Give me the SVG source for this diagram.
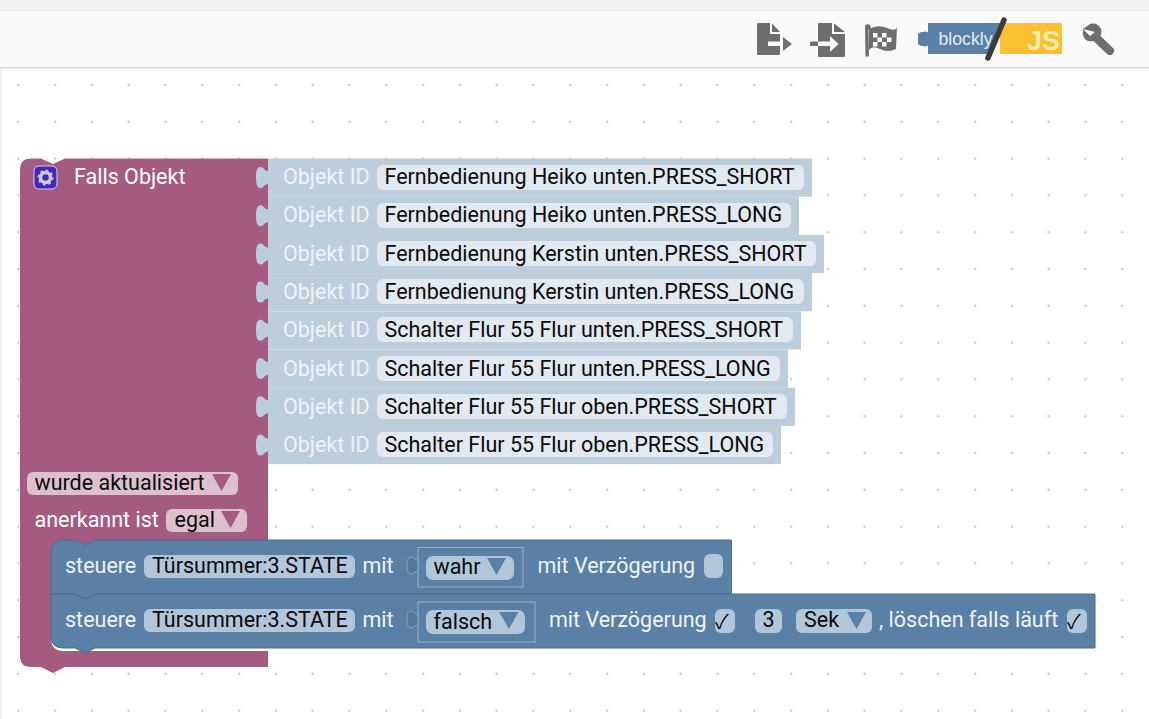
<svg xmlns="http://www.w3.org/2000/svg" width="1149" height="719" viewBox="0 0 1149 719">
<style>
text{font-family:Roboto,"Liberation Sans",sans-serif;font-size:21.5px;fill:#0a0a0a}
.w{fill:#fff}.lw{fill:#eef4f8}
.ob{fill:#bccddc}.f{fill:#e3e9f0}
.mf{fill:#dcc0ce}.bf{fill:#b2c6da}
.bl{fill:#5b80a5;stroke:#4d6d8c;stroke-width:1}
.tri{fill:#a55b80}.tb{fill:#5b80a5}
.gr{fill:#6e6e6e}.lg{fill:#fafafa}
.ck{font-size:20px;font-family:"Noto Sans CJK JP","DejaVu Sans",sans-serif}
.sock{fill:#557a9e;stroke:#8aa8c4;stroke-width:1}
.box{fill:none;stroke:#93afc9;stroke-width:1}
.lg2{font-family:"Liberation Sans",Arial,sans-serif}
</style>
<defs>
<pattern id="dots" x="18.3" y="85" width="36.8" height="36.8" patternUnits="userSpaceOnUse">
<circle cx="0" cy="0" r="1.3" fill="#ccc"/><circle cx="36.8" cy="0" r="1.3" fill="#ccc"/><circle cx="0" cy="36.8" r="1.3" fill="#ccc"/><circle cx="36.8" cy="36.8" r="1.3" fill="#ccc"/>
</pattern>
<path id="tab" class="ob" d="M268 171C264 171 264 167 260.500 167C257 167 256 171 256 177.500C256 184 257 188 260.500 188C264 188 264 184 268 184Z"/>
</defs>
<rect width="1149" height="719" fill="#fff"/>
<rect x="2" y="68" width="1147" height="651" fill="url(#dots)"/>
<rect x="0" y="0" width="1149" height="10" fill="#f1f1f1"/>
<rect x="0" y="10" width="1149" height="58" fill="#fafafa"/>
<rect x="0" y="10" width="1149" height="1" fill="#e6e6e6"/>
<rect x="0" y="67" width="1149" height="1.5" fill="#d4d4d4"/>
<rect x="0" y="68" width="1.5" height="651" fill="#ececec"/>

<g id="toolbar">
<g id="export">
<path class="gr" d="M758 23H770V34H780V54Q780 55 779 55H758Q757 55 757 54V24Q757 23 758 23Z"/>
<path class="gr" d="M772 23.500L780 32H772Z"/>
<rect class="lg" x="768" y="41.500" width="15" height="4.500"/>
<rect class="lg" x="780" y="36" width="3" height="16"/>
<path class="gr" d="M783 37L792 44L783 51Z"/>
</g>
<g id="import">
<path class="gr" d="M819 23H832V34H845V56Q845 57 844 57H819Q818 57 818 56V24Q818 23 819 23Z"/>
<path class="gr" d="M834 23.500L845 32H834Z"/>
<rect class="gr" x="810" y="41.500" width="8" height="4.500"/>
<rect class="lg" x="818" y="41.500" width="12" height="4.500"/>
<path class="lg" d="M830 36L838.500 44L830 52Z"/>
</g>
<g id="flag">
<path class="gr" d="M865 27.500a2.900 2.900 0 1 1 3.500 2.500L869 56.500H865.500Z"/>
<path class="gr" d="M869 29Q878 24 887 28T897 27L896 49Q888 53 880 49T869 50Z"/>
<path class="lg" d="M873 33h4.500v4.500h-4.500zM882 33h4.500v4.500h-4.500zM877.500 37.500h4.500v4.500h-4.500zM887 37.500h4.500v4.500h-4.500zM873 42h4.500v4.500h-4.500zM882 42h4.500v4.500h-4.500z"/>
</g>
<g id="logo">
<rect x="1000" y="23" width="62" height="31" fill="#fbc02d"/>
<path d="M928 23H1002L992 54H928V45.500Q926 47 923 46Q920 46.500 918 44V34Q920 31.500 923 32Q926 31 928 32.500Z" fill="#5b80a5"/>
<path d="M988 58L1004 20" stroke="#3c3c3c" stroke-width="5.500" stroke-linecap="round"/>
<text class="lg2" x="938.500" y="45" style="font-size:17.700px;fill:#e3edf5;font-family:'Liberation Sans',sans-serif">blockly</text>
<text class="lg2" x="1027" y="49.500" style="font-size:27px;font-weight:700;fill:#ffedb5;font-family:'Liberation Sans',sans-serif">JS</text>
</g>
<path class="gr" d="M1083 29L1090 24Q1097 22 1101 29Q1102 33 1100.500 36L1114 49Q1115 52 1112 54.500Q1109 56 1107 54L1093.500 41Q1089 42 1086 40Q1082 37 1083 29L1090 36L1095 32Z"/>
</g>

<g id="objects">
<g id="obj1"><rect x="268" y="158.500" width="544" height="38.200" class="ob"/><rect x="377" y="165" width="427" height="25" rx="6" class="f"/><text class="lw" x="283" y="184">Objekt ID</text><text x="384.500" y="184">Fernbedienung Heiko unten.PRESS_SHORT</text></g>
<g id="obj2"><rect x="268" y="196.700" width="531" height="38.200" class="ob"/><rect x="377" y="203" width="414" height="25" rx="6" class="f"/><text class="lw" x="283" y="222">Objekt ID</text><text x="384.500" y="222">Fernbedienung Heiko unten.PRESS_LONG</text></g>
<g id="obj3"><rect x="268" y="234.900" width="556" height="38.200" class="ob"/><rect x="377" y="241" width="439" height="25" rx="6" class="f"/><text class="lw" x="283" y="261">Objekt ID</text><text x="384.500" y="261">Fernbedienung Kerstin unten.PRESS_SHORT</text></g>
<g id="obj4"><rect x="268" y="273.100" width="544" height="38.200" class="ob"/><rect x="377" y="279" width="427" height="25" rx="6" class="f"/><text class="lw" x="283" y="299">Objekt ID</text><text x="384.500" y="299">Fernbedienung Kerstin unten.PRESS_LONG</text></g>
<g id="obj5"><rect x="268" y="311.300" width="533" height="38.200" class="ob"/><rect x="377" y="317" width="416" height="25" rx="6" class="f"/><text class="lw" x="283" y="337">Objekt ID</text><text x="384.500" y="337">Schalter Flur 55 Flur unten.PRESS_SHORT</text></g>
<g id="obj6"><rect x="268" y="349.500" width="520" height="38.200" class="ob"/><rect x="377" y="356" width="403" height="25" rx="6" class="f"/><text class="lw" x="283" y="376">Objekt ID</text><text x="384.500" y="376">Schalter Flur 55 Flur unten.PRESS_LONG</text></g>
<g id="obj7"><rect x="268" y="387.700" width="527" height="38.200" class="ob"/><rect x="377" y="394" width="410" height="25" rx="6" class="f"/><text class="lw" x="283" y="414">Objekt ID</text><text x="384.500" y="414">Schalter Flur 55 Flur oben.PRESS_SHORT</text></g>
<g id="obj8"><rect x="268" y="425.900" width="513" height="38.200" class="ob"/><rect x="377" y="432" width="396" height="25" rx="6" class="f"/><text class="lw" x="283" y="452">Objekt ID</text><text x="384.500" y="452">Schalter Flur 55 Flur oben.PRESS_LONG</text></g>
</g>

<g id="trigger">
<path fill="#a55b80" d="M31 158.500H41L53 164L65 158.500H268V540H95L85 545L75 540H64Q51 540 51 553V638Q51 651 64 651H268V667H65L53 673L41 667H31Q20 667 20 656V170Q20 158.500 31 158.500Z"/>
<use href="#tab"/>
<use href="#tab" y="38.200"/>
<use href="#tab" y="76.400"/>
<use href="#tab" y="114.600"/>
<use href="#tab" y="152.800"/>
<use href="#tab" y="191"/>
<use href="#tab" y="229.200"/>
<use href="#tab" y="267.400"/>
<rect x="34" y="166" width="23" height="23" rx="5" fill="#4527b8" stroke="#d8cdf0"/>
<circle cx="45.500" cy="177.500" r="5" fill="none" stroke="#cfc8ee" stroke-width="3.500"/>
<circle cx="45.500" cy="177.500" r="7" fill="none" stroke="#cfc8ee" stroke-width="2" stroke-dasharray="2.500 3"/>
<text class="w" x="74" y="184">Falls Objekt</text>
<rect x="27" y="472" width="211" height="23" rx="6" class="mf"/>
<text x="34.500" y="490">wurde aktualisiert</text>
<path class="tri" d="M212 474H231L221.500 491Z"/>
<text class="w" x="34.500" y="527">anerkannt ist</text>
<rect x="166" y="509" width="81" height="23" rx="6" class="mf"/>
<text x="174.500" y="527">egal</text>
<path class="tri" d="M221 511H240L230.500 528Z"/>
</g>

<g id="set1">
<path class="bl" d="M63 540H75L85 545L95 540H731.500V594H95L85 599L75 594H51V552Q51 540 63 540Z"/>
<rect x="144" y="555" width="211" height="23" rx="6" class="bf"/>
<text class="lw" x="65" y="573">steuere</text>
<text x="152" y="573">Türsummer:3.STATE</text>
<text class="lw" x="362.500" y="573">mit</text>
<rect class="box" x="418" y="547.500" width="105" height="39.500"/>
<path class="sock" d="M418 560C414 560 414 557 411 557C408 557 407 560 407 565.500C407 571 408 574 411 574C414 574 414 571 418 571Z"/>
<rect x="426" y="556" width="88" height="24" rx="7" class="bf"/>
<text x="433.500" y="574">wahr</text>
<path class="tb" d="M487 558H506L496.500 575Z"/>
<text class="lw" x="537.500" y="573">mit Verzögerung</text>
<rect x="704" y="554" width="19" height="24" rx="6" class="bf"/>
</g>
<g id="set2">
<path class="bl" d="M51 594H75L85 599L95 594H1095V648H95L85 653L75 648H63Q51 648 51 636Z"/>
<rect x="144" y="609" width="211" height="23" rx="6" class="bf"/>
<text class="lw" x="65" y="627">steuere</text>
<text x="152" y="627">Türsummer:3.STATE</text>
<text class="lw" x="362.500" y="627">mit</text>
<rect class="box" x="418" y="602" width="117" height="40"/>
<path class="sock" d="M418 614C414 614 414 611 411 611C408 611 407 614 407 619.500C407 625 408 628 411 628C414 628 414 625 418 625Z"/>
<rect x="426" y="610" width="99" height="24" rx="7" class="bf"/>
<text x="433.500" y="629">falsch</text>
<path class="tb" d="M499 612H518.500L509 629Z"/>
<text class="lw" x="549" y="627">mit Verzögerung</text>
<rect x="715" y="609" width="20" height="24" rx="6" class="bf"/>
<text class="ck" x="715" y="629">✓</text>
<rect x="755" y="609" width="27" height="24" rx="6" class="bf"/>
<text x="762.500" y="627">3</text>
<rect x="796" y="609" width="76" height="24" rx="6" class="bf"/>
<text x="804" y="627">Sek</text>
<path class="tb" d="M847 612H866L856.500 629Z"/>
<text class="lw" x="879" y="627">, löschen falls läuft</text>
<rect x="1067" y="609" width="20" height="24" rx="6" class="bf"/>
<text class="ck" x="1067" y="629">✓</text>
</g>
</svg>
